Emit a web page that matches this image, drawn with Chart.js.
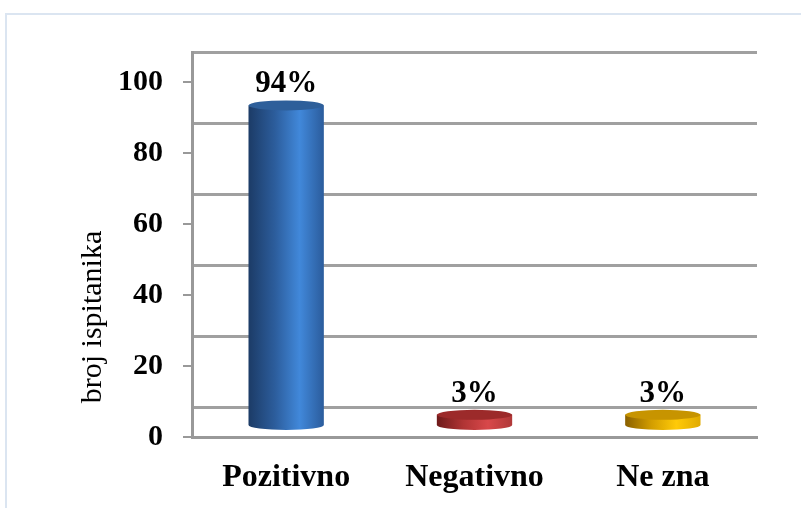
<!DOCTYPE html>
<html>
<head>
<meta charset="utf-8">
<script src="https://cdn.jsdelivr.net/npm/chart.js@4"></script>
<style>
  html, body { margin: 0; padding: 0; background: #fff; overflow: hidden; }
  #okvir { position: absolute; left: 5px; top: 13px; width: 900px; height: 600px; border: 2px solid #dbe5f1; }
  #wrap { position: absolute; left: 0; top: 0; width: 801px; height: 508px; }
</style>
</head>
<body>
<div id="okvir"></div>
<div id="wrap"><canvas id="grafik" width="801" height="508"></canvas></div>
<script>
// === Podaci ===
var kategorije = ['Pozitivno', 'Negativno', 'Ne zna'];
var vrijednosti = [94, 3, 3];
var postoci = ['94%', '3%', '3%'];
var yTicks = [0, 20, 40, 60, 80, 100];

// boje cilindara: [tamno, srednje, svijetlo, rub, poklopac]
var boje = [
  ['#1c3b66', '#2c5d9c', '#4188da', '#2b5c9c', '#2e5f9a'],
  ['#6e1a1a', '#b03434', '#d8484a', '#b03838', '#9c2a2a'],
  ['#8a6000', '#d39e00', '#ffca08', '#e0aa00', '#c79400']
];

var fontSerif = '"Liberation Serif", "Times New Roman", serif';

// cilindri + postoci iznad stupaca
var cilindri = {
  id: 'cilindri',
  afterDatasetsDraw: function(chart) {
    var ctx = chart.ctx;
    var meta = chart.getDatasetMeta(0);
    meta.data.forEach(function(bar, i) {
      var p = bar.getProps(['x', 'y', 'base', 'width'], true);
      var rx = p.width / 2, ry = 5;
      var l = p.x - rx, r = p.x + rx;
      var c = boje[i];

      ctx.save();
      var g = ctx.createLinearGradient(l, 0, r, 0);
      g.addColorStop(0, c[0]);
      g.addColorStop(0.35, c[1]);
      g.addColorStop(0.68, c[2]);
      g.addColorStop(1, c[3]);
      ctx.fillStyle = g;
      ctx.beginPath();
      ctx.moveTo(l, p.y);
      ctx.lineTo(l, p.base);
      ctx.ellipse(p.x, p.base, rx, ry, 0, Math.PI, 0, true);
      ctx.lineTo(r, p.y);
      ctx.closePath();
      ctx.fill();

      // poklopac
      ctx.fillStyle = c[4];
      ctx.beginPath();
      ctx.ellipse(p.x, p.y, rx, ry, 0, 0, Math.PI * 2);
      ctx.fill();

      // postotak
      ctx.fillStyle = '#000';
      ctx.font = 'bold 31px ' + fontSerif;
      ctx.textAlign = 'center';
      ctx.textBaseline = 'alphabetic';
      ctx.fillText(postoci[i], p.x, p.y - 13);
      ctx.restore();
    });

    // naslov osi y
    ctx.save();
    ctx.translate(93, 317);
    ctx.rotate(-Math.PI / 2);
    ctx.fillStyle = '#000';
    ctx.font = '30px ' + fontSerif;
    ctx.textAlign = 'center';
    ctx.textBaseline = 'middle';
    ctx.fillText('broj ispitanika', 0, 0);
    ctx.restore();
  }
};

var ctxGrafik = document.getElementById('grafik');
new Chart(ctxGrafik, {
  type: 'bar',
  data: {
    labels: kategorije,
    datasets: [{
      label: 'broj ispitanika',
      data: vrijednosti,
      yAxisID: 'yBar',
      backgroundColor: 'rgba(0,0,0,0)',
      borderWidth: 0,
      barPercentage: 0.4,
      categoryPercentage: 1
    }]
  },
  options: {
    responsive: false,
    animation: false,
    layout: { padding: { left: 118, right: 44, top: 52, bottom: 0 } },
    plugins: { legend: { display: false }, tooltip: { enabled: false } },
    scales: {
      x: {
        grid: { display: false, drawTicks: false },
        border: { display: true, color: '#999', width: 3 },
        ticks: { color: '#000', padding: 22, font: { family: fontSerif, size: 32, weight: 'bold' } },
        afterFit: function(s) { s.height = 71; }
      },
      y: {
        position: 'left',
        min: 0,
        max: 108.45,
        afterBuildTicks: function(s) { s.ticks = yTicks.map(function(v) { return { value: v }; }); },
        afterFit: function(s) { s.width = 74; },
        grid: { drawOnChartArea: false, drawTicks: true, tickLength: 9, color: '#999', lineWidth: 2 },
        border: { display: true, color: '#999', width: 3 },
        ticks: { color: '#000', padding: 20, font: { family: fontSerif, size: 30, weight: 'bold' } }
      },
      yb: {
        position: 'right',
        min: -8.15,
        max: 100,
        afterBuildTicks: function(s) { s.ticks = yTicks.map(function(v) { return { value: v }; }); },
        grid: { drawTicks: false, color: '#a0a0a0', lineWidth: 3 },
        border: { display: false },
        ticks: { display: false }
      },
      yBar: {
        display: false,
        min: -3.53,
        max: 109.7
      }
    }
  },
  plugins: [cilindri]
});
</script>
</body>
</html>
